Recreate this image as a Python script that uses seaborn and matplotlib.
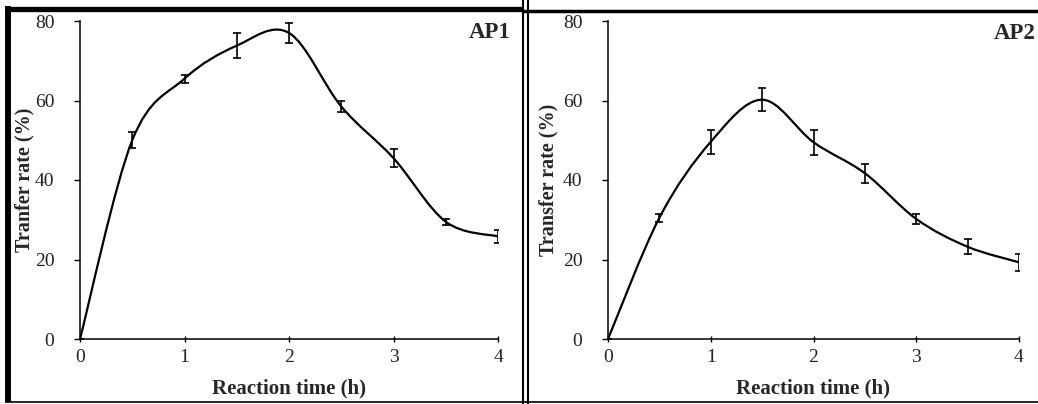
import numpy as np
import pandas as pd
import matplotlib
matplotlib.use("Agg")
import matplotlib.pyplot as plt
import seaborn as sns
from matplotlib.path import Path
from matplotlib.patches import PathPatch
from matplotlib.lines import Line2D

# ---------------- data ----------------
time_h = [0, 0.5, 1, 1.5, 2, 2.5, 3, 3.5, 4]
ap1_rate = [0, 50, 65.5, 73.8, 77, 58.5, 45.5, 29.5, 25.8]
ap1_err = [0, 2.0, 1.0, 3.2, 2.5, 1.3, 2.2, 0.7, 1.7]
ap2_rate = [0, 30.5, 49.6, 60.2, 49.5, 41.7, 30.2, 23.2, 19.3]
ap2_err = [0, 1.0, 3.1, 2.9, 3.2, 2.4, 1.3, 1.9, 2.1]
panel_labels = ["AP1", "AP2"]
y_titles = ["Tranfer rate (%)", "Transfer rate (%)"]
x_title = "Reaction time (h)"
x_ticks = [0, 1, 2, 3, 4]
y_ticks = [0, 20, 40, 60, 80]

sns.set_style("white")
plt.rcParams["font.family"] = ["Liberation Serif", "DejaVu Serif"]

W, H = 1038, 404
fig = plt.figure(figsize=(W / 100, H / 100), dpi=100)


def px_axes(x0, x1, ytop, ybot):
    return fig.add_axes([x0 / W, (H - ybot) / H, (x1 - x0) / W, (ybot - ytop) / H])


def smooth_path(xs, ys):
    # Excel-style smoothed line through the data points (cubic Bezier)
    n = len(xs)
    pts = list(zip(xs, ys))
    verts = [pts[0]]
    codes = [Path.MOVETO]
    for i in range(n - 1):
        p0 = pts[i - 1] if i > 0 else pts[i]
        p1 = pts[i]
        p2 = pts[i + 1]
        p3 = pts[i + 2] if i + 2 < n else pts[i + 1]
        c1 = (p1[0] + (p2[0] - p0[0]) / 6, p1[1] + (p2[1] - p0[1]) / 6)
        c2 = (p2[0] - (p3[0] - p1[0]) / 6, p2[1] - (p3[1] - p1[1]) / 6)
        verts += [c1, c2, p2]
        codes += [Path.CURVE4] * 3
    return Path(verts, codes)


series = [(ap1_rate, ap1_err), (ap2_rate, ap2_err)]
axes_px = [(80, 498, 21, 339), (608, 1019, 21, 339)]
label_pos = [(1.03, 0.965), (1.041, 0.962)]
ylab_x = [-0.11, -0.12]

for k, ((rate, err), (x0, x1, yt, yb)) in enumerate(zip(series, axes_px)):
    ax = px_axes(x0, x1, yt, yb)
    rows = []
    for t, v, e in zip(time_h, rate, err):
        rows.append({"time": t, "rate": v - e})
        rows.append({"time": t, "rate": v + e})
    df = pd.DataFrame(rows)
    sns.lineplot(data=df, x="time", y="rate", ax=ax, color="black", lw=0,
                 errorbar=("pi", 100), err_style="bars",
                 err_kws=dict(capsize=3, elinewidth=1.2, capthick=1.2))
    ax.add_patch(PathPatch(smooth_path(time_h, rate), facecolor="none",
                           edgecolor="black", lw=1.6, zorder=3))
    ax.set_xlim(0, 4)
    ax.set_ylim(0, 80)
    ax.set_xticks(x_ticks)
    ax.set_yticks(y_ticks)
    for s in ["top", "right"]:
        ax.spines[s].set_visible(False)
    for s in ["left", "bottom"]:
        ax.spines[s].set_color("black")
        ax.spines[s].set_linewidth(1.1)
    ax.tick_params(axis="y", left=True, direction="out", length=4.5, width=1.0,
                   pad=14, labelsize=14, colors="black", labelcolor="#222222")
    ax.tick_params(axis="x", bottom=True, direction="inout", length=5, width=1.0,
                   pad=5, labelsize=14, colors="black", labelcolor="#222222")
    ax.set_xlabel(x_title, fontsize=15, fontweight="bold")
    ax.set_ylabel(y_titles[k], fontsize=14.5, fontweight="bold")
    ax.xaxis.set_label_coords(0.5, -0.125)
    ax.yaxis.set_label_coords(ylab_x[k], 0.5)
    ax.text(label_pos[k][0], label_pos[k][1], panel_labels[k], transform=ax.transAxes,
            ha="right", va="center", fontsize=16.5, fontweight="bold")
    ax.set_facecolor("none")


def fig_line(xs, ys, lw):
    fig.add_artist(Line2D([x / W for x in xs], [(H - y) / H for y in ys],
                          transform=fig.transFigure, color="black", lw=lw,
                          solid_capstyle="butt"))


# panel frames
fig_line([8, 8], [6, 402], 4.3)       # left edge
fig_line([5, 523], [8.5, 8.5], 3.8)   # top of left panel
fig_line([523, 1038], [10.5, 10.5], 2.5)  # top of right panel
fig_line([523, 523], [0, 404], 1.5)   # divider lines
fig_line([528.3, 528.3], [0, 404], 1.5)
fig_line([5, 1038], [401.5, 401.5], 1.2)  # bottom

fig.savefig("out.png", dpi=100)
